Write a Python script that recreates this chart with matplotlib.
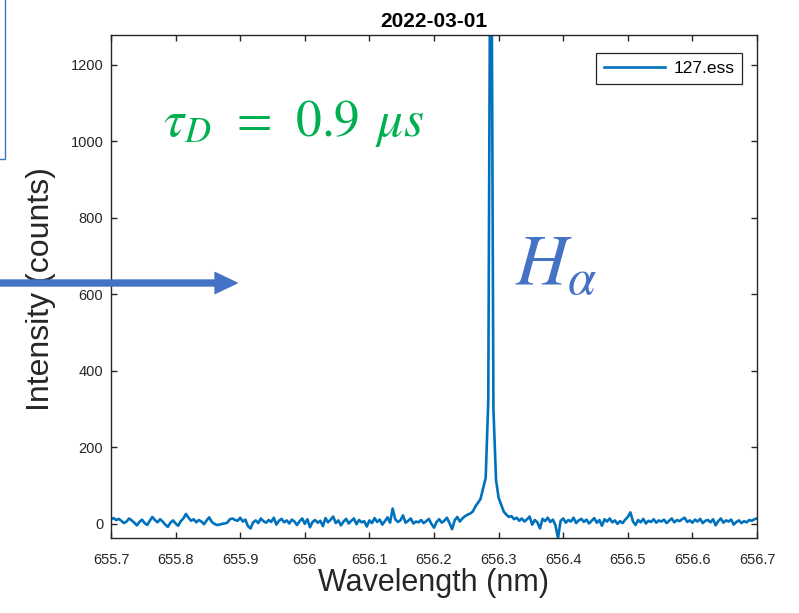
import numpy as np
import matplotlib
matplotlib.use("Agg")
import matplotlib.pyplot as plt
from matplotlib.patches import FancyArrowPatch, Rectangle, ArrowStyle

plt.rcParams["font.family"] = ["Liberation Sans", "DejaVu Sans"]
plt.rcParams["mathtext.fontset"] = "stix"

# spectrum: 251 samples, 655.7 .. 656.7 nm (peak runs past the top of the axes)
wl_start, wl_stop, n_pts = 655.7, 656.7, 251
intensity = [
    12, 15, 10, 13, 8, 2, 6, 14, 9, 3,
    -4, 5, 11, 2, -3, 8, 18, 10, 4, 12,
    6, -2, -8, 3, 9, 1, -5, 7, 14, 26,
    16, 8, 12, 4, 10, 6, -1, 9, 17, 5,
    0, -3, -2, 0, 1, 3, 12, 14, 10, 8,
    16, 6, 11, -6, -12, 4, 9, 2, 14, 7,
    3, 10, 5, 16, -2, 8, 13, 4, 9, 1,
    11, 6, -3, 7, 14, 0, 12, -9, 5, 10,
    3, 8, -6, 15, 4, 11, 19, 2, 9, -4,
    6, 13, 1, 8, 14, -1, 10, 4, 7, -7,
    9, 2, 15, 5, 11, -2, 7, 17, 3, 40,
    12, 5, 9, 22, 3, 8, 14, 1, 6, 4,
    10, 2, 7, 13, 0, -10, 5, 12, 3, 8,
    16, 2, -14, 9, 18, 6, 14, 20, 24, 27,
    32, 45, 55, 65, 92, 120, 320, 1950, 300, 115,
    68, 50, 32, 24, 18, 20, 12, 16, 8, 14,
    6, 12, 19, -2, 10, 4, -12, 13, 7, 16,
    5, 11, -4, -37, 8, 14, 3, 10, 6, 16,
    2, 9, 13, 5, 11, 1, 8, 15, 3, 10,
    -5, 12, 6, 14, 4, 9, 0, 7, 2, 11,
    18, 30, 6, -3, 10, 4, 13, 1, 8, 5,
    12, 3, 9, 6, 11, 2, 8, 14, 4, 10,
    7, 12, 16, 5, 9, 3, 11, 6, 13, 2,
    8, 10, 4, 12, -4, 7, 14, 3, 9, 6,
    11, -2, 5, 9, 2, 7, 4, 10, 8, 12,
    14,
]
wavelength = np.linspace(wl_start, wl_stop, n_pts)

y_lo, y_hi = -37, 1278
xticks = [655.7, 655.8, 655.9, 656.0, 656.1, 656.2, 656.3, 656.4, 656.5, 656.6, 656.7]
yticks = [0, 200, 400, 600, 800, 1000, 1200]

fig = plt.figure(figsize=(7.99, 6.13), dpi=100)
ax = fig.add_axes([111 / 799, 75 / 613, 646 / 799, 503 / 613])

ax.plot(wavelength, intensity, color="#0072BD", lw=1.9, label="127.ess")
ax.set_xlim(wl_start, wl_stop)
ax.set_ylim(y_lo, y_hi)
ax.set_xticks(xticks)
ax.set_xticklabels([f"{v:g}" for v in xticks])
ax.set_yticks(yticks)

grey = "#262626"
for s in ax.spines.values():
    s.set_color(grey)
    s.set_linewidth(1.0)
ax.tick_params(direction="in", length=4.5, width=1.0, color=grey, labelcolor=grey,
               labelsize=10.5, top=True, right=True)
ax.tick_params(axis="x", pad=10.5)
ax.tick_params(axis="y", pad=5.5)

ax.set_title("2022-03-01", fontsize=15, fontweight="bold", pad=6)
ax.set_xlabel("Wavelength (nm)", fontsize=22, color=grey, labelpad=1)
ax.set_ylabel("Intensity (counts)", fontsize=23, color=grey)
ax.yaxis.set_label_coords(-0.085, 0.495)

leg = ax.legend(loc="upper right", bbox_to_anchor=(0.977, 0.964), borderaxespad=0,
                fontsize=12.5, handlelength=3.5, handletextpad=0.5, borderpad=0.45,
                fancybox=False, framealpha=1)
leg.get_frame().set_edgecolor(grey)
leg.get_frame().set_linewidth(0.9)

# annotations
fig.text(163 / 799, 1 - 136 / 613, r"$\tau_D\;\,=\;\,0.9\;\,\mu s$", color="#00B050",
         fontsize=37, ha="left", va="baseline")
fig.text(515 / 799, 1 - 285 / 613, r"$H_\alpha$", color="#4472C4",
         fontsize=52, ha="left", va="baseline")

arrow = FancyArrowPatch((-0.01, 1 - 283 / 613), (237 / 799, 1 - 283 / 613),
                        transform=fig.transFigure,
                        arrowstyle=ArrowStyle.Simple(head_length=15.8, head_width=15.1, tail_width=4.3),
                        mutation_scale=1, shrinkA=0, shrinkB=0,
                        color="#4472C4", clip_on=False)
fig.patches.append(arrow)

box = Rectangle((-0.1, 1 - 159 / 613), 0.1 + 4.5 / 799, 0.5, transform=fig.transFigure,
                fill=False, edgecolor="#4472C4", lw=1.0, clip_on=False)
fig.patches.append(box)

fig.savefig("out.png", dpi=100)
